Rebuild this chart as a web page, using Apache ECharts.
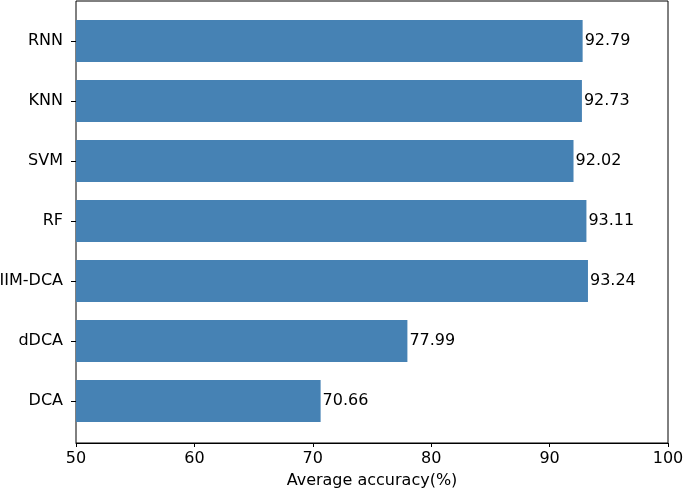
<!DOCTYPE html>
<html>
<head>
<meta charset="utf-8">
<script src="https://cdn.jsdelivr.net/npm/echarts@6/dist/echarts.min.js"></script>
<style>
  html, body { margin: 0; padding: 0; background: #fff; }
  #main { width: 685px; height: 492px; }
</style>
</head>
<body>
<div id="main"></div>
<script>
// categories listed bottom to top
var methods = ['DCA', 'dDCA', 'HIIM-DCA', 'RF', 'SVM', 'KNN', 'RNN'];
var accuracy = [70.66, 77.99, 93.24, 93.11, 92.02, 92.73, 92.79];
var xTicks = [50, 60, 70, 80, 90, 100];

var font = 'DejaVu Sans';
var myChart = echarts.init(document.getElementById('main'));

var option = {
  animation: false,
  textStyle: { fontFamily: font },
  grid: [
    // frame + x axis
    { left: 76, right: 17, top: 1, bottom: 49, show: true, borderColor: '#000', borderWidth: 1,
      backgroundColor: 'transparent', outerBoundsMode: 'none', containLabel: false },
    // bar area
    { left: 76, right: 17, top: 11, bottom: 61, outerBoundsMode: 'none', containLabel: false }
  ],
  xAxis: [
    {
      gridIndex: 0, type: 'value', min: xTicks[0], max: xTicks[xTicks.length - 1], interval: 10,
      name: 'Average accuracy(%)', nameLocation: 'middle', nameGap: 30,
      nameTextStyle: { color: '#000', fontSize: 16, fontFamily: font },
      axisLine: { show: true, lineStyle: { color: '#000', width: 1 } },
      axisTick: { show: true, length: 4, lineStyle: { color: '#000' } },
      axisLabel: { color: '#000', fontSize: 16, fontFamily: font, margin: 8 },
      splitLine: { show: false }
    },
    {
      gridIndex: 1, type: 'value', min: xTicks[0], max: xTicks[xTicks.length - 1],
      show: false, splitLine: { show: false }
    }
  ],
  yAxis: [
    {
      gridIndex: 0, type: 'value', min: 0, max: 1, show: false, splitLine: { show: false }
    },
    {
      gridIndex: 1, type: 'category', data: methods,
      axisLine: { show: false },
      axisTick: { show: true, alignWithLabel: true, length: 5, lineStyle: { color: '#000' } },
      axisLabel: { color: '#000', fontSize: 16, fontFamily: font, margin: 13 },
      splitLine: { show: false }
    }
  ],
  series: [
    {
      type: 'bar',
      xAxisIndex: 1,
      yAxisIndex: 1,
      data: accuracy,
      barWidth: 42,
      itemStyle: { color: '#4682b4' },
      label: {
        show: true, position: 'right', distance: 2,
        color: '#000', fontSize: 16, fontFamily: font,
        formatter: function (p) { return p.value.toFixed(2); }
      }
    }
  ]
};

myChart.setOption(option);
</script>
</body>
</html>
